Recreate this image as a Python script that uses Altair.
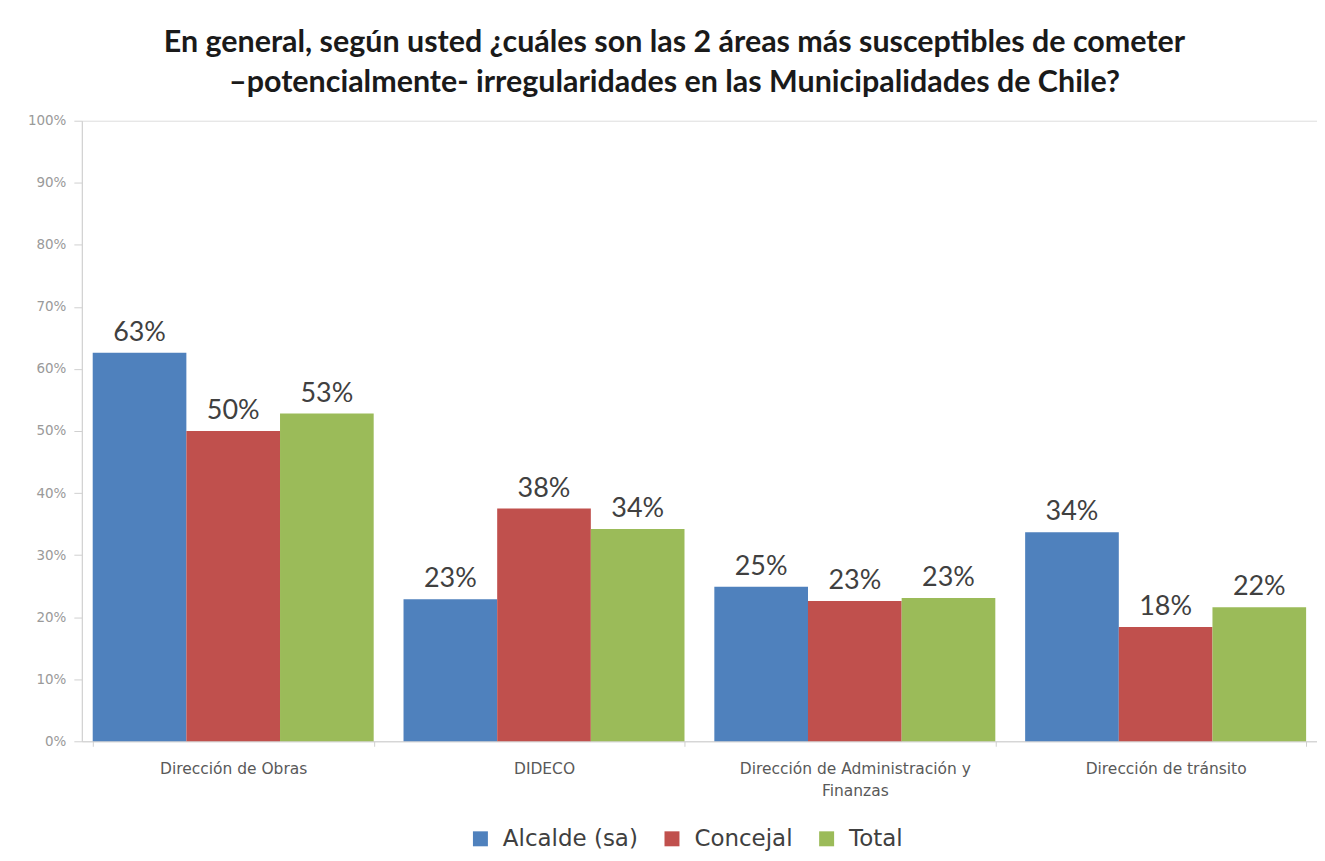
import altair as alt
import pandas as pd

categories = ["Dirección de Obras", "DIDECO", "Dirección de Administración y Finanzas", "Dirección de tránsito"]
series = ["Alcalde (sa)", "Concejal", "Total"]
alcalde = [62.6, 22.9, 24.9, 33.7]
concejal = [50.0, 37.5, 22.6, 18.4]
total = [52.8, 34.2, 23.1, 21.6]
colors = ["#4F81BD", "#C0504D", "#9BBB59"]
y_ticks = [0, 10, 20, 30, 40, 50, 60, 70, 80, 90, 100]

rows = []
for s, vals in zip(series, [alcalde, concejal, total]):
    for c, v in zip(categories, vals):
        rows.append({"cat": c, "serie": s, "value": v, "label": f"{round(v)}%"})
df = pd.DataFrame(rows)

x = alt.X("cat:N", sort=categories, title=None,
          scale=alt.Scale(paddingInner=0.096, paddingOuter=0.035),
          axis=alt.Axis(labelAngle=0, labelFontSize=15.5, labelColor="#595959",
                        labelFont="DejaVu Sans", labelPadding=15, tickBand="extent",
                        tickSize=5, tickColor="#d0d0d0", domainColor="#d0d0d0",
                        labelLimit=400,
                        labelExpr="datum.label == 'Dirección de Administración y Finanzas' ? ['Dirección de Administración y', 'Finanzas'] : datum.label",
                        labelLineHeight=22))
xo = alt.XOffset("serie:N", sort=series, scale=alt.Scale(paddingInner=0, paddingOuter=0))

base = alt.Chart(df).encode(x=x, xOffset=xo)

bars = base.mark_bar().encode(
    y=alt.Y("value:Q", title=None,
            scale=alt.Scale(domain=[0, 100]),
            axis=alt.Axis(values=y_ticks, labelExpr="datum.value + '%'", grid=False,
                          labelFontSize=13.5, labelColor="#9a9a9a", labelFont="DejaVu Sans",
                          tickSize=8, tickColor="#d0d0d0", domainColor="#d0d0d0",
                          labelPadding=8)),
    color=alt.Color("serie:N", sort=series, title=None,
                    scale=alt.Scale(domain=series, range=colors),
                    legend=alt.Legend(orient="none", legendX=388, legendY=708,
                                      direction="horizontal", symbolType="square",
                                      symbolSize=225, symbolStrokeWidth=0,
                                      labelFontSize=23, labelFont="DejaVu Sans",
                                      labelColor="#404040", columnPadding=22,
                                      symbolOffset=0, labelOffset=11)),
)

labels = base.mark_text(dy=-20, fontSize=27, font="Lato", color="#404040").encode(
    y="value:Q", text="label:N"
)

chart = (bars + labels).properties(
    width=1238, height=622,
    title=alt.TitleParams(
        ["En general, según usted ¿cuáles son las 2 áreas más susceptibles de cometer",
         "–potencialmente- irregularidades en las Municipalidades de Chile?"],
        fontSize=30.5, font="Lato", fontWeight="bold", color="#1a1a1a",
        anchor="middle", dx=-25, offset=15, lineHeight=40),
    autosize=alt.AutoSizeParams(type="none"),
    padding={"left": 74, "top": 112, "right": 0, "bottom": 110},
).configure_view(stroke=None).configure(background="white")

chart.save("out.html", embed_options={"renderer": "svg", "actions": False})
